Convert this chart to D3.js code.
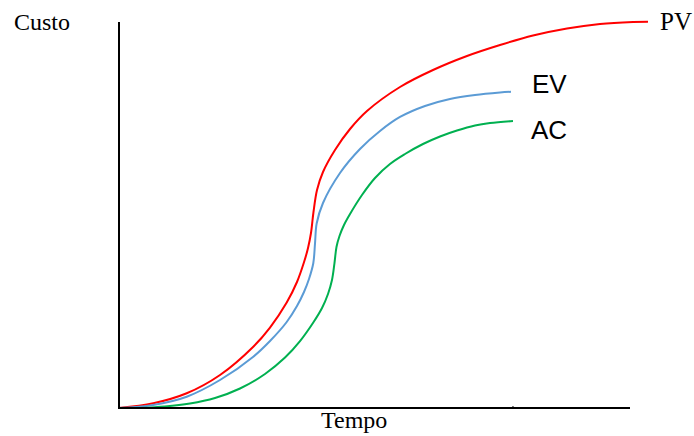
<!DOCTYPE html>
<html>
<head>
<meta charset="utf-8">
<script src="https://cdn.jsdelivr.net/npm/d3@7"></script>
<style>
  body { margin: 0; background: #fff; }
</style>
</head>
<body>
<svg id="chart"></svg>
<script>
// curve values (time %, cost %)
const pvTime = [0, 6.71, 13.25, 19.77, 26.28, 29.55, 32.82, 34.83, 36.2, 36.99, 37.57, 38.06, 38.75, 39.92, 42.27, 45.21, 48.53, 54.99, 61.45, 68.1, 74.56, 81.02, 87.67, 94.13, 100.59, 103.52];
const pvCost = [0, 1.22, 3.81, 8.55, 15.88, 20.85, 27.33, 32.64, 37.75, 41.45, 45.34, 50.78, 56.48, 61.14, 66.84, 72.28, 76.94, 83.16, 87.56, 91.19, 94.04, 96.5, 98.32, 99.48, 100, 100.08];

const evTime = [0, 6.65, 13.25, 19.77, 26.28, 29.55, 32.82, 34.83, 36.2, 37.18, 38.02, 38.36, 38.69, 39.92, 43.25, 47.16, 51.08, 54.99, 59.88, 64.77, 69.67, 74.56, 76.71];
const evCost = [0, 0.78, 2.93, 7.25, 13.29, 17.36, 22.28, 26.42, 30.05, 33.42, 37.49, 42.67, 47.85, 53.11, 60.88, 67.1, 71.76, 75.39, 78.24, 80.05, 81.09, 81.74, 81.94];

const acTime = [4.11, 8.96, 13.89, 18.79, 23.68, 28.57, 32.49, 35.42, 38.02, 39.73, 40.9, 41.68, 42.17, 42.56, 43.15, 44.03, 45.21, 47.55, 50.1, 53.03, 55.97, 59.49, 62.82, 66.14, 69.67, 72.6, 77.1];
const acCost = [0, 0.39, 1.17, 2.59, 5.05, 8.81, 13.06, 17.33, 22.15, 25.91, 29.53, 33.16, 37.56, 41.71, 44.56, 47.41, 50.26, 55.18, 59.59, 63.21, 65.8, 68.39, 70.34, 71.89, 73.19, 73.83, 74.35];

const series = [
  { name: "PV", time: pvTime, cost: pvCost, color: "#FF0000" },
  { name: "EV", time: evTime, cost: evCost, color: "#5B9BD5" },
  { name: "AC", time: acTime, cost: acCost, color: "#00B050" },
];

const statusTime = 77.1; // small tick on the time axis

const width = 694;
const height = 436;

const svg = d3.select("#chart").attr("width", width).attr("height", height);

const x = d3.scaleLinear().domain([0, 100]).range([119, 630]);
const y = d3.scaleLinear().domain([0, 100]).range([408, 22]);

const line = d3
  .line()
  .x((d) => x(d[0]))
  .y((d) => y(d[1]))
  .curve(d3.curveCatmullRom.alpha(0.5));

// curves
svg
  .selectAll(".curve")
  .data(series)
  .enter()
  .append("path")
  .attr("class", "curve")
  .attr("fill", "none")
  .attr("stroke", (d) => d.color)
  .attr("stroke-width", 2)
  .attr("d", (d) => line(d.time.map((t, i) => [t, d.cost[i]])));

// axes
svg
  .append("line")
  .attr("x1", x(0)).attr("x2", x(0))
  .attr("y1", y(0)).attr("y2", y(100))
  .attr("stroke", "#000").attr("stroke-width", 2);

svg
  .append("line")
  .attr("x1", x(0) - 1).attr("x2", x(100))
  .attr("y1", y(0)).attr("y2", y(0))
  .attr("stroke", "#000").attr("stroke-width", 2);

svg
  .append("line")
  .attr("x1", x(statusTime)).attr("x2", x(statusTime))
  .attr("y1", y(0)).attr("y2", y(0) - 2)
  .attr("stroke", "#000").attr("stroke-width", 1);

// labels
const serif = "'Liberation Serif', 'Times New Roman', serif";
const sans = "'Liberation Sans', Arial, sans-serif";

svg.append("text").attr("x", 14).attr("y", 30)
  .style("font-family", serif).style("font-size", "24px").text("Custo");

svg.append("text").attr("x", 321).attr("y", 428)
  .style("font-family", serif).style("font-size", "24px").text("Tempo");

svg.append("text").attr("x", 660).attr("y", 30)
  .style("font-family", serif).style("font-size", "25px").text("PV");

svg.append("text").attr("x", 532).attr("y", 93)
  .style("font-family", sans).style("font-size", "26px").text("EV");

svg.append("text").attr("x", 531).attr("y", 139)
  .style("font-family", sans).style("font-size", "26px").text("AC");
</script>
</body>
</html>
